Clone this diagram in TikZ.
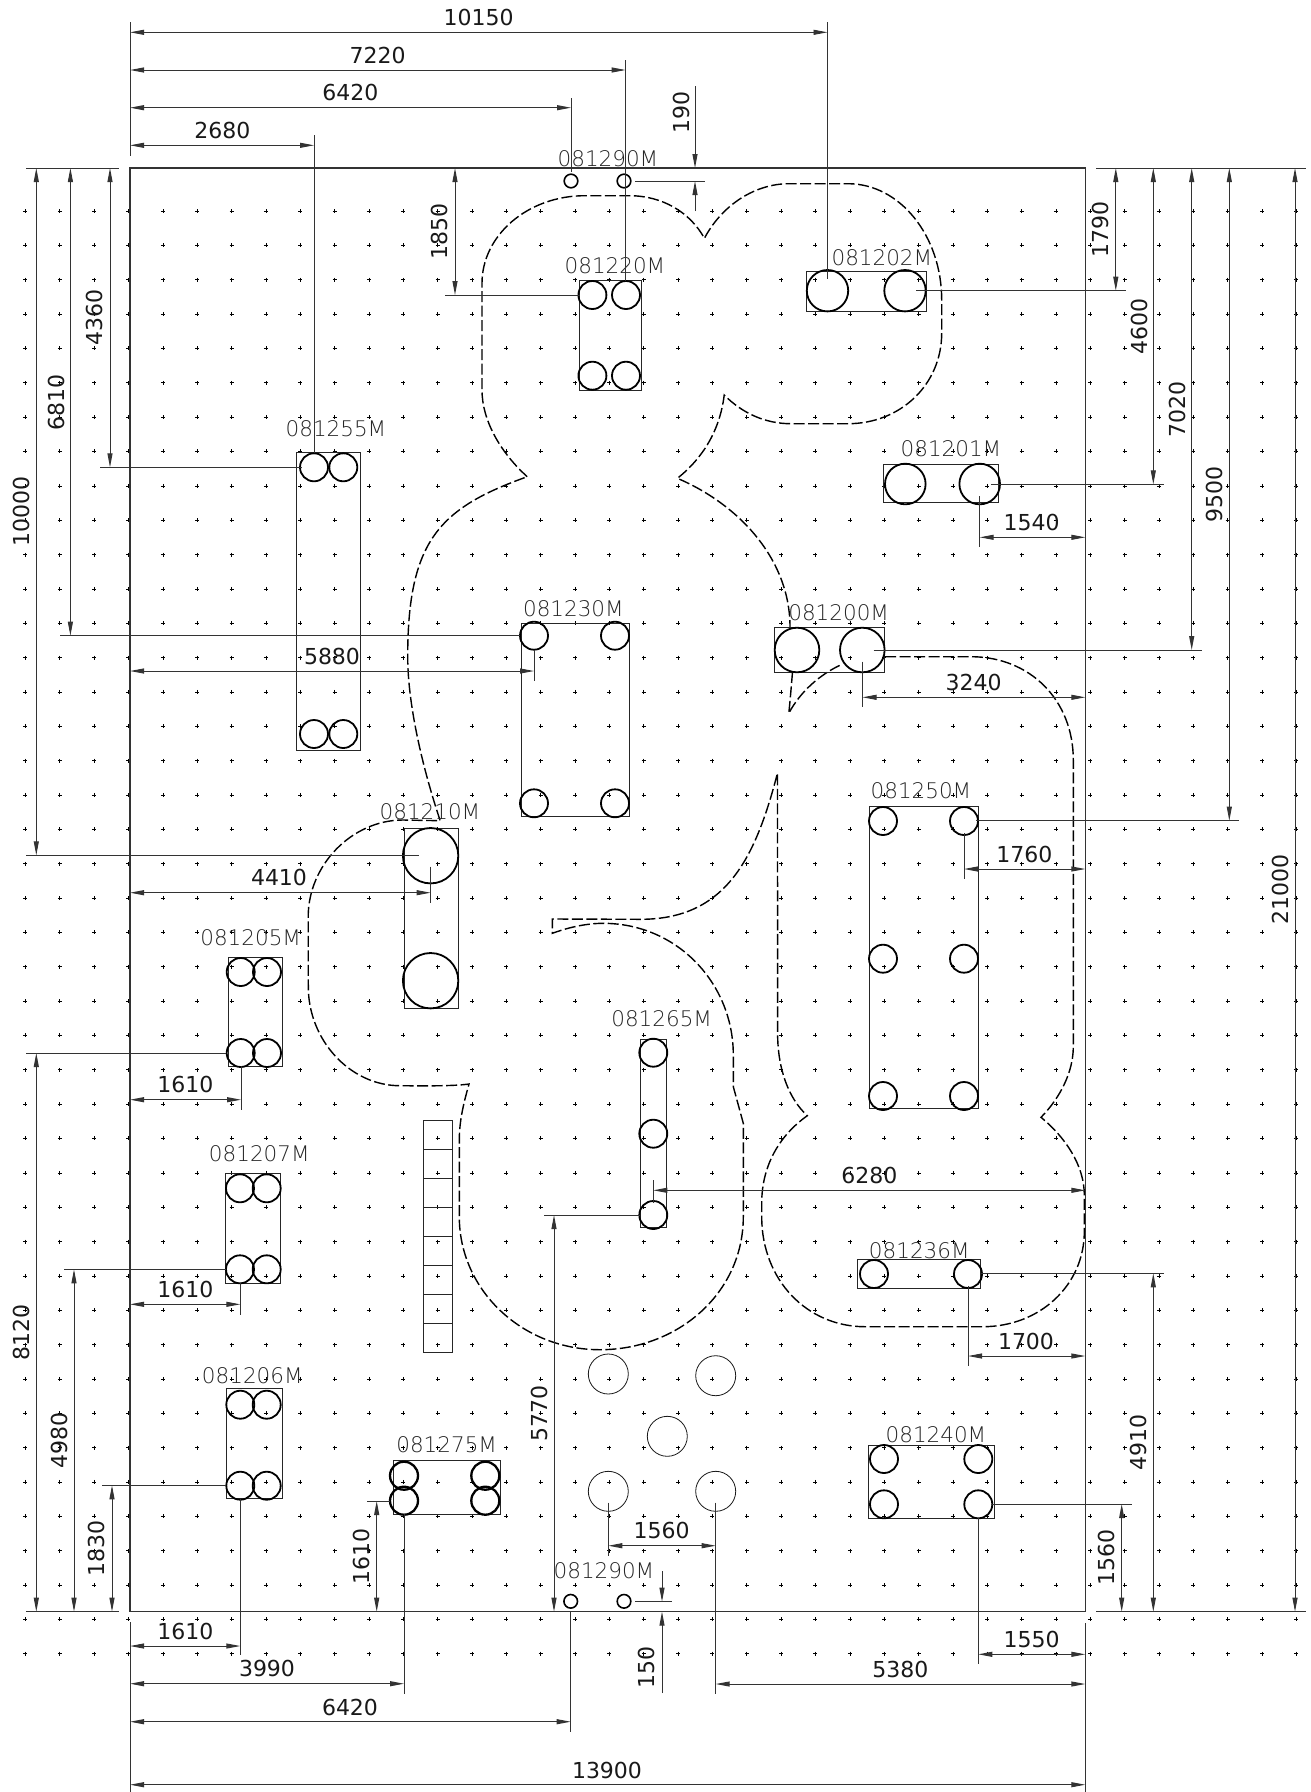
\documentclass[tikz,border=0pt]{standalone}
\usepackage{fontspec}
\setmainfont{DejaVu Sans}
\newfontfamily\lblfont{DejaVu Sans ExtraLight}
\usetikzlibrary{arrows.meta}
\tikzset{
  gridp/.style={line width=0.6pt,black},
  extln/.style={line width=0.95pt,black!80},
  dimln/.style={line width=0.95pt,black!80},
  frameln/.style={line width=1.05pt,black!80},
  boxln/.style={line width=1pt,black!85},
  pile/.style={line width=1.8pt,black},
  pilethick/.style={line width=2.3pt,black},
  thincirc/.style={line width=0.8pt,black!90},
  dashln/.style={line width=1.4pt,black,dash pattern=on 11pt off 3.5pt},
  bothtips/.style={{Triangle[length=14pt,width=5pt]}-{Triangle[length=14pt,width=5pt]}},
  endtip/.style={-{Triangle[length=14pt,width=5pt]}},
  dimtxt/.style={font=\fontsize{22}{22}\selectfont,inner sep=0pt,text=black!90},
  lbltxt/.style={font=\lblfont\fontsize{21.5}{22}\selectfont,inner sep=0pt,text=black!85},
}
\newcommand{\HD}[6]{\draw[dimln,bothtips] (#1,#3)--(#2,#3); \node[dimtxt] (h#4x#1) at (#5,#6) {#4};}
\newcommand{\VD}[6]{\draw[dimln,bothtips] (#1,#2)--(#1,#3); \node[dimtxt,rotate=90] (v#4x#1) at (#5,#6) {#4};}
\newcommand{\EX}[4]{\draw[extln] (#1,#2)--(#3,#4);}
\newcommand{\LB}[3]{\node[lbltxt] (l#1x#2) at (#2,#3) {#1};}
\newcommand{\PC}[3]{\draw[pile] (#1,#2) circle[radius=#3];}
\begin{document}
\begin{tikzpicture}[x=1pt,y=-1pt]
\useasboundingbox (0,0) rectangle (1311,1792);
\fill[white] (0,0) rectangle (1311,1792);
% grid of small crosses
\draw[gridp] \foreach \i in {0,...,37}{\foreach \j in {0,...,42}{
  ({25.4+34.35*\i-2},{211+34.35*\j}) -- ++(4,0)
  ({25.4+34.35*\i},{211+34.35*\j-2}) -- ++(0,4)}};
% frame
\draw[frameln] (130,1611.7)--(130,168)--(1085.3,168)--(1085.3,1611.7)--cycle;
\EX{26}{168}{119}{168}
\EX{1096}{168}{1305.5}{168}
\EX{26}{1611.7}{119}{1611.7}
\EX{1096}{1611.7}{1305.5}{1611.7}
\EX{130}{22}{130}{156}
\EX{130}{1622}{130}{1792}
\EX{1085.3}{1623}{1085.3}{1792}
% dashed outline
\draw[dashln] (527.2,476.7) .. controls (500,452) and (482,420) .. (482,390) -- (482,283.3)
  .. controls (482,235) and (528,195.7) .. (584.8,195.7) -- (629.5,195.7)
  .. controls (662,195.7) and (690,212) .. (704.4,238.3)
  .. controls (722,205) and (755,183.7) .. (789,183.7) -- (848,183.7)
  .. controls (900,183.7) and (941.7,236) .. (941.7,300) -- (941.7,333)
  .. controls (941.7,385) and (900,423.7) .. (848,423.7) -- (791,423.7)
  .. controls (765,423.7) and (742,413) .. (724.2,395)
  .. controls (720,430) and (703,458) .. (677.4,478.3)
  .. controls (740,505) and (790,560) .. (790,627);
\draw[dashln] (792.5,672) .. controls (791,690) and (790,702) .. (788.8,713.3)
  .. controls (800,692) and (820,674) .. (842.7,664);
\draw[dashln] (885,656.7) -- (971,656.7)
  .. controls (1030,656.7) and (1073.3,700) .. (1073.3,760) -- (1073.3,1046.7)
  .. controls (1073.3,1072) and (1060,1098) .. (1041,1117.3)
  .. controls (1065,1137) and (1084.3,1165) .. (1084.3,1195) -- (1084.3,1231.7)
  .. controls (1084.3,1285) and (1040,1326.7) .. (982.7,1326.7) -- (865,1326.7)
  .. controls (807,1326.7) and (761.7,1280) .. (761.7,1216.7) -- (761.7,1203.3)
  .. controls (761.7,1165) and (780,1135) .. (807.3,1115.7)
  .. controls (788,1098) and (777.6,1068) .. (777.6,1033) -- (777.5,773)
  .. controls (755,860) and (725,919.3) .. (640.4,919.3) -- (552.3,919) -- (552.3,933.3)
  .. controls (575,925) and (595,922.5) .. (610,923.5)
  .. controls (680,927) and (733.3,985) .. (733.3,1055) -- (733.3,1086.7) -- (743.3,1123.3) -- (743.3,1216.7)
  .. controls (743.3,1293) and (678,1349.7) .. (600,1349.7)
  .. controls (522,1349.7) and (459.3,1290) .. (459.3,1216.7) -- (459.3,1140)
  .. controls (459.3,1120) and (464,1102) .. (469,1084)
  .. controls (455,1086) and (430,1086) .. (400,1085.7)
  .. controls (350,1085.7) and (308.3,1040) .. (308.3,986.7) -- (308.2,916.7)
  .. controls (308.2,865) and (352,820) .. (403,820) -- (440.2,820.7)
  .. controls (420,760) and (407.7,700) .. (407.7,656.7)
  .. controls (407.7,540) and (440,508) .. (527.2,476.7);
% ladder
\draw[boxln] (423.3,1120.7) rectangle (452.7,1352);
\foreach \k in {1,...,7}{\draw[boxln] (423.3,{1120.7+28.91*\k})--(452.7,{1120.7+28.91*\k});}
% thin circles
\foreach \c/\d in {608.3/1374,715.7/1375.7,667.3/1436.3,608.3/1491.3,715.7/1491.3}{\draw[thincirc] (\c,\d) circle[radius=20];}
% boxes
\draw[boxln] (579,280) rectangle (641.5,390.3);
\draw[boxln] (296.7,452.3) rectangle (360.3,750.7);
\draw[boxln] (521,623.3) rectangle (629.3,816.7);
\draw[boxln] (404.2,828.7) rectangle (458.6,1008.3);
\draw[boxln] (774,627.3) rectangle (884.7,672.3);
\draw[boxln] (883.3,464) rectangle (998.7,502.3);
\draw[boxln] (806.8,271.7) rectangle (926.6,311.7);
\draw[boxln] (869.7,806) rectangle (978.3,1108.3);
\draw[boxln] (857.3,1259.3) rectangle (980.3,1288);
\draw[boxln] (868.7,1445.3) rectangle (994.7,1518.3);
\draw[boxln] (640.7,1039.3) rectangle (666.7,1227);
\draw[boxln] (228.3,957.3) rectangle (282.7,1066);
\draw[boxln] (225.7,1173.3) rectangle (280.3,1283.3);
\draw[boxln] (226.7,1388.7) rectangle (282.7,1498.3);
\draw[boxln] (393.3,1460.3) rectangle (500.7,1514.3);
% piles
\foreach \c/\d in {592.4/295,626/295,592.4/375.7,626/375.7,
  314/467.3,343.3/467.3,314/734,343.3/734,
  534/635.7,615/635.7,534/803.3,615/803.3,
  883/821,964/821,883/958.7,964/958.7,883/1096,964/1096,
  874/1274,968/1274,884/1459,978.3/1459,884/1504.3,978.3/1504.3,
  653.3/1052.7,653.3/1133.7,653.3/1215,
  240.7/972,267/972,240.7/1053,267/1053,
  240/1188.3,266.7/1188.3,240/1269.3,266.7/1269.3,
  240.3/1404.7,266.7/1404.7,240.3/1485.7,266.7/1485.7}{\PC{\c}{\d}{14}}
\foreach \c/\d in {404/1475.7,485.3/1475.7,404/1500.7,485.3/1500.7}{\draw[pilethick] (\c,\d) circle[radius=14];}
\PC{430.6}{855.7}{27.7}\PC{430.6}{980.7}{27.7}
\PC{797}{650}{22.3}\PC{862.3}{650}{22.3}
\PC{905.3}{484}{20.3}\PC{979.7}{484}{20.3}
\PC{827.5}{290.7}{20.7}\PC{905}{290.7}{20.7}
\foreach \c/\d in {571/181,624/181,570.7/1601.3,624/1601.3}{\draw[line width=1.6pt] (\c,\d) circle[radius=6.8];}
% labels
\LB{081220M}{615}{265.7}
\LB{081255M}{336}{428.3}
\LB{081230M}{573.4}{608.3}
\LB{081210M}{430}{811.7}
\LB{081200M}{838.7}{612.7}
\LB{081201M}{951}{448.3}
\LB{081202M}{881.9}{257.3}
\LB{081250M}{921}{791}
\LB{081236M}{919.3}{1251}
\LB{081240M}{936}{1434.3}
\LB{081265M}{661.7}{1019}
\LB{081205M}{250.7}{937.3}
\LB{081207M}{259.3}{1153.3}
\LB{081206M}{252.3}{1375.3}
\LB{081275M}{446.7}{1444.3}
\LB{081290M}{608}{158.3}
\LB{081290M}{604}{1570.7}
% top dims
\HD{130}{827.5}{32.3}{10150}{478.6}{17.3}
\HD{130}{625.6}{70}{7220}{377.7}{55}
\HD{130}{571}{107.7}{6420}{350.4}{92.7}
\HD{130}{314}{145.3}{2680}{222.3}{130.7}
\EX{827.5}{22}{827.5}{279}
\EX{625.6}{60}{625.6}{281}
\EX{571}{98}{571}{172}
\EX{314}{135}{314}{453}
% 190
\draw[dimln,endtip] (695,86)--(695,168);
\draw[dimln,endtip] (695,211)--(695,181);
\EX{688}{168}{705}{168}
\EX{635}{181}{705}{181}
\node[dimtxt,rotate=90] (v190) at (681,112) {190};
% left verticals
\VD{36.3}{168}{855.3}{10000}{21.7}{511.7}
\EX{26}{855.3}{419}{855.3}
\VD{70.4}{168}{635.7}{6810}{56}{402}
\EX{60}{635.7}{520}{635.7}
\VD{110}{168}{467.3}{4360}{94.6}{317.5}
\EX{100}{467.3}{302}{467.3}
\VD{36.3}{1053}{1611.7}{8120}{21.7}{1332.3}
\EX{26}{1053}{226}{1053}
\VD{74}{1269.3}{1611.7}{4980}{59}{1440}
\EX{64}{1269.3}{226}{1269.3}
\VD{112}{1485.3}{1611.7}{1830}{96.7}{1548.7}
\EX{102}{1485.3}{226}{1485.3}
\VD{455}{168}{295}{1850}{439.7}{231}
\EX{445}{295}{580}{295}
% interior horizontals
\HD{130}{534}{671}{5880}{332}{656}
\EX{534}{650}{534}{680.7}
\HD{130}{430.6}{892.7}{4410}{279}{877.3}
\EX{430.6}{866.7}{430.6}{902.7}
\HD{130}{241}{1099.7}{1610}{185.3}{1084.3}
\EX{241}{1066}{241}{1110}
\HD{130}{240.3}{1304.3}{1610}{185.3}{1289.3}
\EX{240.3}{1283}{240.3}{1315}
% bottom dims
\HD{130}{240.3}{1646}{1610}{185.3}{1631}
\EX{240.3}{1498.7}{240.3}{1655.3}
\HD{130}{404}{1683.7}{3990}{267}{1668.7}
\EX{404}{1513.7}{404}{1693.7}
\HD{130}{570.7}{1721.7}{6420}{350}{1707}
\EX{570.7}{1612}{570.7}{1731.7}
\HD{130}{1085.3}{1784.7}{13900}{607}{1770}
\VD{376.7}{1501}{1611.7}{1610}{361.7}{1556.3}
\EX{367}{1501}{390}{1501}
\VD{554}{1215}{1611.7}{5770}{539}{1413.3}
\EX{544}{1215}{640}{1215}
\HD{608.3}{715.7}{1545.7}{1560}{661.7}{1530.7}
\EX{608.3}{1502.7}{608.3}{1556}
\EX{715.7}{1502.7}{715.7}{1694.3}
% 150
\draw[dimln,endtip] (662,1571)--(662,1601.7);
\draw[dimln,endtip] (662,1693)--(662,1611.7);
\EX{635}{1601.7}{671.7}{1601.7}
\node[dimtxt,rotate=90] (v150) at (646.7,1667.5) {150};
\HD{715.7}{1085.3}{1684}{5380}{900.3}{1669.3}
\HD{978.3}{1085.3}{1654.3}{1550}{1031.7}{1639.3}
\EX{978.3}{1518}{978.3}{1664.3}
% right verticals
\VD{1121.7}{1504}{1611.7}{1560}{1106.7}{1557.5}
\EX{991}{1504}{1131.7}{1504}
\VD{1153.3}{1273.3}{1611.7}{4910}{1138.7}{1442.5}
\EX{981}{1273.3}{1163.7}{1273.3}
\HD{968}{1085.3}{1356}{1700}{1026}{1341}
\EX{968}{1286}{968}{1365.7}
\VD{1295}{168}{1611.7}{21000}{1280.3}{889.5}
\HD{653.3}{1085.3}{1190.3}{6280}{869.3}{1175}
\EX{653.3}{1180}{653.3}{1203}
\HD{964}{1085.3}{869}{1760}{1024.3}{854}
\EX{964}{833}{964}{878.7}
\VD{1229.3}{168}{820.7}{9500}{1214.3}{494}
\EX{976}{820.7}{1239.3}{820.7}
\HD{862.5}{1085.3}{697.3}{3240}{973.7}{682.3}
\EX{862.5}{661.7}{862.5}{706.7}
\VD{1191.7}{168}{650}{7020}{1177}{409}
\EX{873.7}{650}{1201.7}{650}
\HD{979.7}{1085.3}{537.3}{1540}{1031.7}{522.3}
\EX{979.7}{496}{979.7}{547.3}
\VD{1153.3}{168}{484.3}{4600}{1139}{326}
\EX{991}{484.3}{1163.7}{484.3}
\VD{1115.8}{168}{290.7}{1790}{1100}{229.7}
\EX{916.4}{290.7}{1125.5}{290.7}
\end{tikzpicture}
\end{document}
